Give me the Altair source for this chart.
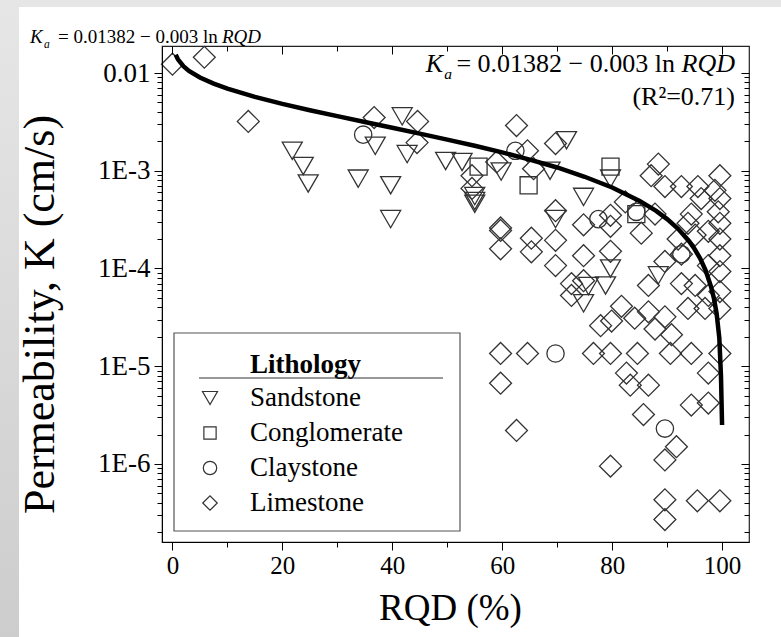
import altair as alt
import pandas as pd

FONT = "'Liberation Serif', 'Times New Roman', 'DejaVu Serif', serif"

cats = ["Sandstone", "Conglomerate", "Claystone", "Limestone"]
shapes = ["triangle-down", "square", "circle", "diamond"]

sandstone_rqd = [21.8, 23.8, 24.7, 33.8, 36.9, 39.7, 39.7, 41.8, 42.7, 49.7, 52.7, 55, 55, 55,
                 59.8, 68.7, 71.7, 79.7, 74.8, 69.7, 79.7, 78.8, 88.4, 74.8, 75.7]
sandstone_k = [0.0016, 0.00112, 0.00074, 0.00083, 0.0018, 0.00071, 0.00032, 0.0036, 0.00148, 0.00126,
               0.00123, 0.00055, 0.00049, 0.00046, 0.00098, 0.001, 0.00205, 0.00083, 0.00054, 0.00032,
               1.0e-4, 6.7e-5, 8.5e-5, 4.4e-5, 6.6e-5]

conglomerate_rqd = [55.7, 64.8, 79.7, 84.4]
conglomerate_k = [0.0011, 0.00071, 0.0011, 0.00036]

claystone_rqd = [34.7, 62.4, 77.5, 84.4, 92.6, 69.7, 89.6]
claystone_k = [0.00234, 0.0016, 0.00032, 0.00038, 0.00014, 1.35e-5, 2.3e-6]

limestone_rqd = [0, 5.8, 13.8, 36.7, 44.6, 44.5, 59, 54.5, 54.5, 59.7, 62.6, 64.6, 69.7, 65.7, 69.7,
                 74.8, 79.7, 79.7, 82.4, 85.3, 88.4, 87.1, 89.6, 92.6, 95.6, 99.6, 98.7, 96.2, 99.6,
                 87.8, 94.4, 93.8, 99.3, 99.6, 97.5, 95.1, 92, 99.6, 92.6, 89.6, 99.6, 99.6, 97.5,
                 86.6, 92.6, 95.1, 97.5, 99.6, 99.6, 96.9, 93.8, 89.6, 86.6, 84.1, 81.7, 79.9, 77.9,
                 90.8, 87.8, 79.7, 74.8, 69.7, 59.7, 59.7, 65.3, 65.3, 69.7, 72.6, 74.8, 72.6,
                 59.7, 64.6, 76.6, 79.7, 84.6, 90.6, 94.4, 99.6, 59.7, 82.6, 83.3, 86.6, 97.5,
                 94.4, 97.5, 85.7, 62.6, 91.7, 89.6, 79.7, 89.6, 89.6, 95.5, 99.6]
limestone_k = [0.0123, 0.0145, 0.0032, 0.0035, 0.0032, 0.00194, 0.00123, 0.00089, 0.00066, 0.00026,
               0.0029, 0.0016, 0.0019, 0.00105, 0.00039, 0.00028, 0.00035, 0.00027, 0.00048, 0.00023,
               0.00117, 0.00089, 0.00069, 0.00069, 0.00069, 0.00089, 0.00063, 0.00052, 0.00052,
               0.00036, 0.00036, 0.00029, 0.00038, 0.00029, 0.00024, 0.00022, 0.0002, 0.0002,
               0.00014, 0.000118, 0.000135, 9.3e-5, 0.000107, 6.7e-5, 7.0e-5, 6.7e-5, 5.3e-5,
               5.8e-5, 3.9e-5, 3.9e-5, 3.9e-5, 3.2e-5, 3.6e-5, 3.1e-5, 4.1e-5, 2.9e-5, 2.6e-5,
               2.1e-5, 2.4e-5, 0.00015, 0.000135, 0.000107, 0.000245, 0.000159, 0.000204, 0.000148,
               0.000194, 7.0e-5, 7.5e-5, 5.3e-5, 1.35e-5, 1.35e-5, 1.35e-5, 1.35e-5, 1.35e-5,
               1.35e-5, 1.35e-5, 1.35e-5, 6.7e-6, 8.5e-6, 6.4e-6, 6.4e-6, 8.5e-6, 4.0e-6, 4.2e-6,
               3.2e-6, 2.2e-6, 1.5e-6, 1.1e-6, 9.5e-7, 4.3e-7, 2.7e-7, 4.2e-7, 4.2e-7]

# fitted curve K_a = 0.01382 - 0.003 ln RQD
curve_rqd = [0.6, 1, 2, 3, 5, 7.5, 10, 15, 20, 25, 30, 35, 40, 45, 50, 55, 60, 65, 70, 75, 80, 85,
             88, 90, 92, 94, 95, 96, 97, 98, 98.5, 99, 99.5, 99.8, 100]
curve_k = [0.01535, 0.01382, 0.01174, 0.01052, 0.00899, 0.00778, 0.00691, 0.0057, 0.00483, 0.00416,
           0.00362, 0.00315, 0.00275, 0.0024, 0.00208, 0.0018, 0.00154, 0.0013, 0.00108, 0.000868,
           0.000674, 0.000492, 0.000388, 0.00032, 0.000255, 0.00019, 0.000158, 0.000127, 0.000096,
           0.000065, 0.00005, 0.000035, 0.0000194, 0.000008, 0.0000025]

x_major = [0, 20, 40, 60, 80, 100]
x_minor = [10, 30, 50, 70, 90]
y_major = [1e-6, 1e-5, 1e-4, 1e-3, 1e-2]
y_minor = [m * 10.0 ** e for e in range(-7, -2) for m in range(2, 10)]

marker_sizes = {"Sandstone": 400, "Conglomerate": 290, "Claystone": 300, "Limestone": 480}
legend_sizes = {"Sandstone": 225, "Conglomerate": 150, "Claystone": 180, "Limestone": 210}

rows = []
for name, xs, ks in [("Sandstone", sandstone_rqd, sandstone_k),
                     ("Conglomerate", conglomerate_rqd, conglomerate_k),
                     ("Claystone", claystone_rqd, claystone_k),
                     ("Limestone", limestone_rqd, limestone_k)]:
    for a, b in zip(xs, ks):
        rows.append({"RQD": a, "K": b, "Lithology": name})
pts = pd.DataFrame(rows)
curve = pd.DataFrame({"RQD": curve_rqd, "K": curve_k})
legend_df = pd.DataFrame({"Lithology": cats})
one = pd.DataFrame({"a": [0]})

XS = alt.Scale(domain=[-1.9, 104.9], nice=False, zero=False)
YS = alt.Scale(type="log", domain=[1.59e-7, 0.0189], nice=False)


def xenc(axis):
    return alt.X("RQD:Q", scale=XS, axis=axis)


def yenc(axis):
    return alt.Y("K:Q", scale=YS, axis=axis)


tick_common = dict(labels=False, domain=False, grid=False, title=None, tickColor="black",
                   tickWidth=1, zindex=2)

# background strips (page frame)
top_strip = alt.Chart(one).mark_rect(fill="#e6e6e6").encode(
    x=alt.value(-162), x2=alt.value(619), y=alt.value(-46), y2=alt.value(-39))
left_strip = alt.Chart(one).mark_rect(
    fill=alt.Gradient(gradient="linear", x1=0, x2=0, y1=0, y2=1,
                      stops=[alt.GradientStop(color="#e6e6e6", offset=0),
                             alt.GradientStop(color="#cdcdcd", offset=1)])
).encode(x=alt.value(-162), x2=alt.value(-143), y=alt.value(-39), y2=alt.value(591))

main_x_axis = alt.Axis(values=x_major, tickSize=8, labelPadding=3, labelFont=FONT, labelFontSize=25,
                       labelColor="black", domainColor="black", tickColor="black", grid=False, zindex=2,
                       title="RQD (%)", titleFont=FONT, titleFontSize=37, titleFontWeight="normal",
                       titleColor="black", titleX=288, titleY=66, titleBaseline="middle")
main_y_axis = alt.Axis(values=y_major, tickSize=8, labelPadding=4, labelFont=FONT, labelFontSize=27,
                       labelColor="black", domainColor="black", tickColor="black", grid=False, zindex=2,
                       labelExpr="datum.value > 0.005 ? '0.01' : '1E' + round(log(datum.value)/LN10)",
                       title="Permeability, K (cm/s)", titleFont=FONT, titleFontSize=44,
                       titleFontWeight="normal", titleColor="black", titleX=-122, titleY=268,
                       titleBaseline="middle", titleAngle=270)

point_layers = []
for i, (cat, shp) in enumerate(zip(cats, shapes)):
    point_layers.append(
        alt.Chart(pts).transform_filter(alt.datum.Lithology == cat).mark_point(
            shape=shp, size=marker_sizes[cat], filled=False, strokeWidth=1.3, color="#333333", opacity=1
        ).encode(
            x=xenc(main_x_axis if i == 0 else None),
            y=yenc(main_y_axis if i == 0 else None),
        )
    )

line = alt.Chart(curve).mark_line(color="black", strokeWidth=4.5).encode(
    x=xenc(None), y=yenc(None))

ghost = alt.Chart(curve).mark_point(opacity=0)
axis_layers = [
    ghost.encode(x=xenc(alt.Axis(orient="bottom", values=x_minor, tickSize=5, **tick_common)), y=yenc(None)),
    ghost.encode(x=xenc(alt.Axis(orient="top", offset=-8, values=x_major, tickSize=8, **tick_common)), y=yenc(None)),
    ghost.encode(x=xenc(alt.Axis(orient="top", offset=-5, values=x_minor, tickSize=5, **tick_common)), y=yenc(None)),
    ghost.encode(y=yenc(alt.Axis(orient="left", values=y_minor, tickSize=5, **tick_common)), x=xenc(None)),
    ghost.encode(y=yenc(alt.Axis(orient="right", offset=-8, values=y_major, tickSize=8, **tick_common)), x=xenc(None)),
    ghost.encode(y=yenc(alt.Axis(orient="right", offset=-5, values=y_minor, tickSize=5, **tick_common)), x=xenc(None)),
]

# legend
leg_box = alt.Chart(one).mark_rect(fill="white", stroke="#555555", strokeWidth=1.2).encode(
    x=alt.value(12), x2=alt.value(298), y=alt.value(287), y2=alt.value(485))
leg_title = alt.Chart(one).mark_text(text="Lithology", font=FONT, fontSize=27, fontWeight="bold",
                                     align="left", baseline="middle", color="black").encode(
    x=alt.value(88), y=alt.value(319))
leg_rule = alt.Chart(one).mark_rule(color="#333333", strokeWidth=1.2).encode(
    x=alt.value(37), x2=alt.value(281), y=alt.value(332))
leg_y = alt.Y("Lithology:N", scale=alt.Scale(domain=cats, range=[352, 457], padding=0), axis=None)
leg_syms = [
    alt.Chart(legend_df).transform_filter(alt.datum.Lithology == cat).mark_point(
        shape=shp, size=legend_sizes[cat], filled=False, strokeWidth=1.2, color="#333333", opacity=1
    ).encode(x=alt.value(48), y=leg_y)
    for cat, shp in zip(cats, shapes)
]
leg_txt = alt.Chart(legend_df).mark_text(font=FONT, fontSize=27, align="left", baseline="middle",
                                         color="black").encode(
    x=alt.value(88), y=leg_y, text="Lithology:N")


def txt(s, x, y, size, align="left", style="normal"):
    return alt.Chart(one).mark_text(text=s, font=FONT, fontSize=size, fontStyle=style, align=align,
                                    baseline="alphabetic", color="black").encode(
        x=alt.value(x), y=alt.value(y))


formula_top = [
    txt("K", -132, -3, 19, style="italic"),
    txt("a", -118, 2, 11.5, style="italic"),
    txt("= 0.01382 \u2212 0.003 ln", -104, -3, 19),
    txt("RQD", 60, -3, 19, style="italic"),
]
formula_in = [
    txt("K", 281, 26, 26, align="right", style="italic"),
    txt("a", 290, 33, 15.6, align="right", style="italic"),
    txt("= 0.01382 \u2212 0.003 ln", 513, 26, 26, align="right"),
    txt("RQD", 573, 26, 26, align="right", style="italic"),
    txt("(R\u00b2=0.71)", 573, 59, 26, align="right"),
]

chart = alt.layer(
    top_strip, left_strip, *axis_layers, *point_layers, line, leg_box, leg_title, leg_rule,
    *leg_syms, leg_txt, *formula_top, *formula_in
).resolve_scale(y="independent").resolve_axis(
    x="independent", y="independent"
).properties(
    width=587, height=496,
    autosize=alt.AutoSizeParams(type="none"),
    padding={"left": 162, "top": 46, "right": 32, "bottom": 95},
    background="white",
).configure_view(stroke="#222222", strokeWidth=1.2)

chart.save("out.html", embed_options={"renderer": "svg", "actions": False})
